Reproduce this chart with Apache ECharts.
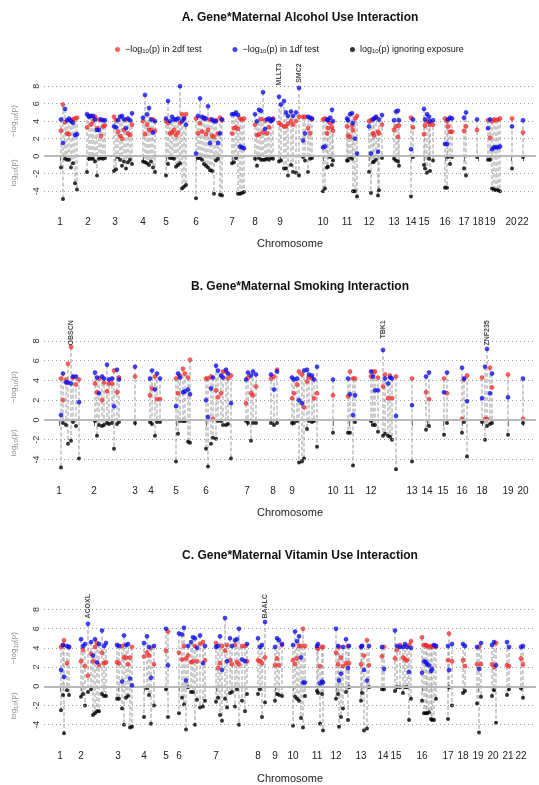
<!DOCTYPE html>
<html><head><meta charset="utf-8">
<script src="https://cdn.jsdelivr.net/npm/echarts@6/dist/echarts.min.js"></script>
<style>html,body{margin:0;padding:0;background:#fff}#c{width:539px;height:785px}</style>
</head><body><div id="c"></div>
<script>
// ---------------- Panel A: Alcohol ----------------
const chrPosA = [60,88,115,143,166,196,232,255,280,323,347,369,394,411,424,445,464,478,490,511,523];
const chrLabA = ['1','2','3','4','5','6','7','8','9','10','11','12','13','14','15','16','17','18','19','20','22'];
const posA = [
  61,63,65,67,69,71,73,75,77,
  87,89,91,93,95,97,99,101,103,105,
  114,116,118,120,122,124,126,128,130,132,
  143,145,147,149,151,153,155,
  166,168,170,172,174,176,178,180,182,184,186,
  196,198,200,202,204,206,208,210,212,214,216,218,220,222,
  232,234,236,238,240,242,244,
  255,257,259,261,263,265,267,269,271,273,
  279,281,284,286,288,291,293,296,299,303,305,308,310,312,
  323,325,327,328,330,332,333,
  347,348,350,352,353,355,357,
  369,371,373,374,376,378,379,382,
  394,396,398,399,
  411,413,
  424,425,427,429,430,433,
  445,447,448,450,452,
  464,466,
  477,
  488,490,492,494,496,498,500,
  512,
  523];
const red2dfA = [
  2.9,5.9,3.9,2.6,2.5,4.1,4.2,4.3,4.4,
  3.3,4.6,3.6,4.0,4.5,3.2,4.2,2.3,3.4,3.5,
  4.5,4.1,2.8,2.3,2.0,3.0,4.2,2.6,2.4,3.6,
  4.0,2.5,3.6,3.0,3.0,4.2,2.9,
  4.0,3.8,2.6,2.7,3.0,2.4,2.7,3.8,4.8,4.3,4.8,
  4.3,2.6,3.8,2.8,4.4,2.5,3.0,4.2,2.3,2.2,4.1,2.6,4.4,4.1,
  2.6,3.2,3.3,3.1,4.3,4.2,4.3,
  3.6,2.4,2.5,4.2,2.7,4.1,2.6,3.3,4.1,4.3,
  3.8,3.6,3.4,3.4,3.7,4.0,3.6,4.0,4.5,4.5,4.5,3.2,2.6,4.2,
  4.2,4.3,2.6,3.2,3.8,3.3,2.9,
  3.4,2.3,2.2,3.5,3.0,4.3,4.6,
  4.0,4.1,2.6,2.4,4.4,2.8,2.6,3.6,
  3.0,3.4,2.2,3.5,
  4.4,3.3,
  2.5,3.5,4.0,3.9,3.6,3.6,
  4.3,4.0,3.4,2.8,2.8,
  2.9,3.4,
  3.0,
  4.1,2.1,4.0,4.2,4.1,4.2,4.3,
  4.3,
  2.7];
const blue1dfA = [
  4.2,1.5,5.4,4.1,4.3,4.0,3.8,2.4,2.5,
  4.8,4.5,4.6,4.6,4.2,3.0,3.0,4.2,4.1,4.1,
  3.4,3.3,4.1,4.5,4.6,4.2,3.2,4.3,4.1,4.9,
  4.4,7.0,4.8,5.5,4.2,2.7,4.0,
  4.3,6.3,4.0,4.5,4.2,4.2,4.3,8.0,4.0,4.3,3.6,
  0.3,4.6,6.6,4.5,4.3,4.3,5.7,1.5,4.2,4.0,4.0,1.5,2.6,4.2,
  4.8,4.8,5.0,4.7,1.1,1.0,0.9,
  4.8,4.0,5.3,5.2,7.3,3.1,4.2,4.3,4.0,4.2,
  6.8,5.9,6.3,5.0,4.6,5.1,4.6,5.0,7.8,1.8,2.6,4.5,4.4,4.3,
  1.0,1.1,4.2,4.1,4.4,5.3,4.0,
  4.3,4.1,4.8,4.9,3.8,2.0,0.3,
  3.4,0.3,4.2,4.3,4.5,0.5,4.2,4.7,
  4.1,5.1,5.2,4.1,
  0.8,4.2,
  5.4,4.2,4.8,4.5,4.0,4.1,
  1.4,1.4,4.2,4.4,4.3,
  4.4,5.0,
  4.2,
  3.2,4.2,0.8,1.0,1.0,1.0,1.1,
  3.4,
  4.1];
const margA = [
  -1.3,-4.9,-0.3,-0.4,-0.4,-1.3,-0.8,-3.1,-3.8,
  -1.8,-0.3,-0.3,-0.3,-0.6,-2.2,-0.3,-0.2,-0.3,-0.2,
  -1.7,-1.5,-0.1,-0.4,-1.1,-0.6,-1.4,-0.7,-0.4,-0.9,
  -0.6,-0.7,-0.8,-1.0,-0.6,-1.3,-1.8,
  -2.2,-0.9,-0.2,-0.2,-0.3,-1.2,-1.0,-0.8,-3.7,-3.5,-3.3,
  -4.8,-0.2,-0.2,-0.4,-0.9,-1.1,-1.3,-1.6,-1.7,-4.3,-0.5,-0.3,-4.4,-4.5,
  -0.8,-0.7,-0.2,-4.3,-4.3,-4.2,-4.1,
  -0.3,-1.1,-0.2,-0.4,-0.4,-0.4,-0.3,-0.4,-0.2,-0.3,
  -0.6,-0.5,-1.4,-1.4,-2.2,-1.0,-1.8,-1.9,-2.2,-0.1,-0.5,-1.8,-0.3,-0.2,
  -4.0,-3.7,-1.3,-1.2,-0.1,-1.0,-0.5,
  -0.5,-0.5,-0.1,-0.3,-4.0,-4.0,-4.6,
  -1.8,-4.2,-0.7,-0.6,-0.4,-4.5,-3.9,-0.2,
  -0.3,-0.5,-0.6,-1.1,
  -4.6,-0.1,
  -1.0,-1.4,-1.9,-0.3,-1.7,-0.5,
  -3.6,-3.6,-0.1,-0.9,-0.1,
  -1.4,-2.2,
  -0.1,
  -0.4,-0.4,-3.7,-3.8,-3.9,-3.9,-4.0,
  -1.4,
  -0.1];
const genesA = ['MLLT3','SMC2'];
const genePosA = [279,299];

// ---------------- Panel B: Smoking ----------------
const chrPosB = [59,94,135,151,176,206,247,273,292,333,349,371,412,427,443,462,482,508,523];
const chrLabB = ['1','2','3','4','5','6','7','8','9','10','11','12','13','14','15','16','18','19','20'];
const posB = [
  61,63,66,68,71,73,76,79,
  95,97,99,102,104,107,109,112,114,117,119,
  135,
  150,152,155,157,160,
  176,178,180,183,185,188,190,
  206,208,211,213,216,218,221,223,226,228,231,
  246,248,251,253,256,
  271,274,277,
  292,294,297,299,302,304,307,309,312,314,317,
  333,
  348,350,353,355,
  371,373,375,378,383,385,388,390,392,396,
  412,
  426,429,
  444,447,
  462,464,467,
  482,485,487,490,492,
  508,
  523];
const red2dfB = [
  4.2,2.0,4.1,5.7,7.4,4.3,3.6,4.1,
  3.7,2.8,4.2,2.0,3.8,2.9,3.7,3.7,5.0,2.8,4.3,
  4.4,
  2.5,3.2,4.4,2.1,2.1,
  4.2,2.7,4.5,5.2,4.7,4.3,6.1,
  4.2,4.2,4.4,0.1,3.0,2.3,2.7,4.9,4.9,4.2,4.5,
  1.7,4.3,2.7,2.5,3.4,
  4.2,4.4,5.1,
  2.2,2.7,3.6,4.9,4.6,1.3,3.9,4.3,4.2,2.2,2.7,
  2.5,
  2.4,4.9,4.2,4.2,
  4.4,4.9,4.9,4.3,3.4,4.6,2.2,4.5,2.2,4.4,
  4.2,
  2.8,2.1,
  4.2,2.7,
  0.1,4.1,4.5,
  4.3,0.1,0.1,5.3,3.3,
  4.6,
  0.1];
const blue1dfB = [
  0.5,4.7,3.8,3.8,3.7,4.4,4.4,1.8,
  4.8,4.3,2.7,4.4,4.2,5.6,4.1,4.2,1.4,5.1,4.1,
  5.4,
  4.2,5.0,3.1,4.7,4.2,
  1.4,4.7,4.3,2.8,2.9,3.1,2.6,
  2.0,0.3,3.2,4.3,5.5,5.0,4.5,4.3,5.1,4.7,1.7,
  4.1,4.8,4.5,4.9,4.6,
  4.6,3.1,4.9,
  4.3,4.1,4.2,2.0,1.7,5.0,5.1,4.6,4.5,4.1,5.4,
  4.1,
  4.2,2.6,0.5,2.5,
  4.9,4.4,3.0,3.0,7.1,4.2,3.7,4.3,4.2,0.4,
  1.5,
  4.4,4.8,
  2.8,4.8,
  5.3,4.2,1.9,
  2.2,5.4,7.2,2.7,4.7,
  2.3,
  4.2];
const margB = [
  -4.8,-0.3,-0.5,-2.4,-2.1,-0.2,-0.6,-3.9,
  -0.1,-1.6,-0.5,-0.6,-0.5,-0.3,-0.4,-0.3,-2.9,-0.4,-0.2,
  -0.3,
  -0.2,-0.4,-1.6,-0.2,-0.2,
  -4.2,-1.4,-0.1,-0.1,-0.1,-2.2,-2.3,
  -2.9,-4.7,-2.4,-1.8,-1.9,-0.1,-0.1,-0.5,-0.5,-0.4,-3.9,
  -0.1,-0.3,-2.1,-0.3,-0.3,
  -0.3,-0.5,-0.3,
  -0.3,-0.3,-0.1,-4.3,-4.2,-3.9,-0.9,-0.1,-0.2,-0.1,-2.7,
  -1.3,
  -1.3,-1.3,-4.6,-0.2,
  -0.1,-0.5,-0.5,-1.2,-1.6,-1.4,-1.6,-1.7,-2.0,-5.0,
  -4.2,
  -1.0,-0.6,
  -1.5,-0.3,
  -1.3,-0.2,-3.7,
  -0.2,-2.0,-0.6,-0.4,-0.3,
  -1.5,
  -0.3];
const genesB = ['OBSCN','TBK1','ZNF235'];
const genePosB = [71,383,487];

// ---------------- Panel C: Vitamin ----------------
const chrPosC = [60,81,118,144,166,179,216,258,275,293,317,336,361,383,396,422,448,463,478,493,508,521];
const chrLabC = ['1','2','3','4','5','6','7','8','9','10','11','12','13','14','15','16','17','18','19','20','21','22'];
const posC = [
  61,63,64,67,69,
  81,83,85,88,91,93,95,97,99,102,104,106,
  117,119,122,124,126,128,130,132,
  144,147,149,151,154,
  166,168,
  179,182,184,186,188,191,193,195,197,200,203,205,
  216,218,220,222,225,227,230,232,235,237,239,242,245,247,
  258,260,262,265,
  275,277,279,282,
  293,295,297,299,301,303,305,
  317,318,320,322,323,
  336,338,339,341,343,346,348,349,
  361,362,364,367,369,
  382,384,
  395,397,400,403,405,407,409,411,
  422,424,426,427,429,431,432,434,436,
  448,449,452,
  463,465,
  477,479,481,
  492,494,496,
  507,509,
  521,523];
const red2dfC = [
  4.1,4.3,4.8,2.4,4.1,
  2.6,3.8,2.1,1.1,3.4,2.6,4.1,4.5,2.2,3.5,2.4,2.5,
  2.5,2.4,4.2,3.0,3.0,2.3,3.0,4.1,
  3.1,3.5,3.2,4.0,2.3,
  3.7,5.7,
  3.5,2.8,4.2,2.9,3.2,2.5,2.6,4.2,2.6,4.4,4.6,2.7,
  4.5,1.9,2.4,4.2,3.7,4.3,2.7,2.3,4.3,2.5,2.3,4.2,4.2,2.6,
  2.7,2.6,2.4,3.0,
  2.2,2.9,2.2,4.3,
  2.7,2.3,2.9,4.2,4.2,6.0,4.2,
  4.0,3.9,2.1,4.1,4.1,
  3.5,2.3,4.1,3.0,2.1,2.4,4.2,2.4,
  2.3,4.2,3.2,4.8,2.2,
  3.1,4.1,
  2.9,3.8,4.3,3.0,2.8,2.7,4.3,4.7,
  5.1,4.3,4.3,4.2,4.1,4.2,4.1,4.2,4.1,
  2.7,5.5,2.6,
  2.7,2.1,
  2.3,4.1,2.3,
  2.3,2.0,4.5,
  2.2,2.1,
  2.9,2.3];
const blue1dfC = [
  1.7,4.3,1.0,4.2,4.1,
  4.9,4.2,4.4,6.5,4.6,3.2,4.9,2.5,4.4,5.8,4.2,4.5,
  4.3,4.2,0.5,5.3,4.3,4.4,0.8,0.1,
  4.5,5.2,4.1,0.9,4.2,
  6.0,2.2,
  5.5,5.4,6.1,0.6,4.2,4.6,5.1,5.0,4.0,5.3,2.4,4.2,
  4.1,4.2,5.2,1.7,7.1,2.6,5.0,4.2,4.8,4.9,6.0,2.8,2.6,4.4,
  5.0,4.1,4.3,6.7,
  4.1,5.0,4.8,4.4,
  4.3,5.7,4.7,5.2,3.0,0.4,0.4,
  4.2,4.4,0.3,0.5,0.4,
  6.0,4.2,0.6,1.3,4.1,4.9,1.9,4.2,
  4.1,4.2,1.7,0.6,4.2,
  4.1,1.8,
  5.8,4.2,4.1,4.1,4.4,4.1,1.5,4.0,
  1.4,2.6,2.5,2.3,2.2,1.6,1.8,4.3,4.2,
  4.2,1.7,4.4,
  4.4,4.2,
  4.1,1.8,4.5,
  4.3,4.6,2.2,
  4.6,4.1,
  4.1,4.2];
const margC = [
  -2.5,-0.9,-4.9,-0.4,-0.9,
  -1.1,-0.8,-2.0,-0.6,-0.3,-3.0,-2.8,-2.6,-2.6,-0.8,-1.0,-1.0,
  -1.3,-1.3,-2.3,-4.0,-1.2,-1.0,-4.3,-4.2,
  -3.2,-0.2,-0.9,-3.9,-2.0,
  -0.3,-3.2,
  -2.8,-1.2,-1.9,-4.5,-0.1,-0.6,-0.6,-4.0,-1.4,-2.2,-2.1,-1.5,
  -1.6,-1.2,-3.0,-3.6,-1.3,-2.2,-0.7,-0.6,-2.1,-0.3,-4.0,-1.5,-2.6,-0.8,
  -0.8,-0.3,-3.2,-1.7,
  -1.5,-0.8,-0.9,-1.0,
  -4.1,-1.1,-1.3,-1.5,-3.3,-4.3,-1.0,
  -0.5,-0.7,-3.9,-0.8,-4.6,
  -1.3,-0.8,-4.2,-3.2,-2.3,-0.6,-3.5,-0.1,
  -1.5,-0.7,-4.6,-4.4,-0.1,
  -0.3,-0.3,
  -0.5,-0.1,-0.1,-0.7,-0.1,-0.1,-3.5,-1.3,
  -1.5,-2.8,-2.8,-2.8,-2.7,-3.4,-3.5,-3.5,-1.3,
  -3.4,-0.1,-2.0,
  -0.7,-0.5,
  -1.8,-4.8,-1.1,
  -1.0,-0.4,-3.8,
  -0.9,-0.3,
  -0.2,-1.2];
const genesC = ['ACOXL','BAALC'];
const genePosC = [88,265];

const yTicks = [-4,-2,0,2,4,6,8];
const gridLines = [-4,-2,2,4,6,8];
const titles = ['A. Gene*Maternal Alcohol Use Interaction','B. Gene*Maternal Smoking Interaction','C. Gene*Maternal Vitamin Use Interaction'];

// ---------------- build ----------------
const FONT = '"Liberation Sans", Arial, sans-serif';
const panels = [
  {pos:posA, red:red2dfA, blue:blue1dfA, black:margA, chrPos:chrPosA, chrLab:chrLabA, genes:genesA, genePos:genePosA,
   top:73, height:131.25, ymin:-5.5, ymax:9.5, labelY:10.6, tickOffset:3, tickLen:5, labelMargin:10, nameGap:31, titleTop:7, nameY:[121,173]},
  {pos:posB, red:red2dfB, blue:blue1dfB, black:margB, chrPos:chrPosB, chrLab:chrLabB, genes:genesB, genePos:genePosB,
   top:321.25, height:153.06, ymin:-5.5, ymax:10, labelY:10.1, tickOffset:1, tickLen:6, labelMargin:11, nameGap:32, titleTop:276, nameY:[387,443]},
  {pos:posC, red:red2dfC, blue:blue1dfC, black:margC, chrPos:chrPosC, chrLab:chrLabC, genes:genesC, genePos:genePosC,
   top:590.25, height:156.03, ymin:-5.8, ymax:10, labelY:9.6, tickOffset:0, tickLen:5, labelMargin:9, nameGap:31, titleTop:545, nameY:[648,706]}
];

const grid = [], xAxis = [], yAxis = [], series = [], title = [], graphic = [];
const subRich = (c)=>({a:{fontSize:8, fill:c, fontFamily:FONT}, b:{fontSize:6, fill:c, fontFamily:FONT, verticalAlign:'bottom', padding:[4,0,0,0]}});

panels.forEach((p, gi) => {
  grid.push({left:44, right:3, top:p.top, height:p.height});
  title.push({text:titles[gi], left:295, textAlign:'center', top:p.titleTop,
    textStyle:{fontSize:12, fontWeight:'bold', color:'#111', fontFamily:FONT}});
  xAxis.push({gridIndex:gi, type:'value', min:44, max:536, offset:p.tickOffset,
    axisLine:{show:false}, splitLine:{show:false},
    axisTick:{show:true, customValues:p.chrPos, length:p.tickLen, lineStyle:{color:'#666'}},
    axisLabel:{customValues:p.chrPos, formatter:(v)=>{const k=p.chrPos.indexOf(v); return k<0?'':p.chrLab[k];},
      fontSize:10, color:'#222', margin:p.labelMargin, fontFamily:FONT},
    name:'Chromosome', nameLocation:'middle', nameGap:p.nameGap,
    nameTextStyle:{fontSize:11, color:'#222', fontFamily:FONT}});
  yAxis.push({gridIndex:gi, type:'value', min:p.ymin, max:p.ymax,
    axisLine:{show:false}, axisTick:{show:false}, splitLine:{show:false},
    axisLabel:{customValues:yTicks, rotate:90, fontSize:9, color:'#333', margin:3, fontFamily:FONT}});

  const lineData = p.pos.map((x,i)=>[x, Math.max(p.red[i], p.blue[i]), p.black[i]]);
  series.push({type:'custom', xAxisIndex:gi, yAxisIndex:gi, z:1, silent:true,
    data:lineData, encode:{x:0, y:[1,2]},
    renderItem:(params, api)=>{
      const a = api.coord([api.value(0), api.value(1)]);
      const b = api.coord([api.value(0), api.value(2)]);
      return {type:'line', shape:{x1:a[0], y1:a[1], x2:b[0], y2:b[1]},
        style:{stroke:'#999', lineWidth:1, lineDash:[4,2]}};
    }});
  series.push({name:'kmarg', type:'scatter', xAxisIndex:gi, yAxisIndex:gi, z:3, symbolSize:4,
    itemStyle:{color:'#000'}, data:p.pos.map((x,i)=>[x, p.black[i]]),
    markLine:{silent:true, symbol:['none','none'], label:{show:false},
      lineStyle:{color:'#9a9a9a', type:[1,3], width:1},
      data:gridLines.map(v=>({yAxis:v})).concat([{yAxis:0, lineStyle:{color:'#b8b8b8', type:'solid', width:2}}])}});
  series.push({name:'r2df', type:'scatter', xAxisIndex:gi, yAxisIndex:gi, z:4, symbolSize:4,
    itemStyle:{color:'#ff3c3c', borderColor:'#e01010', borderWidth:0.6}, data:p.pos.map((x,i)=>[x, p.red[i]])});
  series.push({name:'b1df', type:'scatter', xAxisIndex:gi, yAxisIndex:gi, z:5, symbolSize:4,
    itemStyle:{color:'#1414ff', borderColor:'#0000cc', borderWidth:0.6}, data:p.pos.map((x,i)=>[x, p.blue[i]])});
  series.push({type:'scatter', xAxisIndex:gi, yAxisIndex:gi, z:6, symbolSize:0, clip:false, silent:true,
    data:p.genes.map((g,k)=>({name:g, value:[p.genePos[k], p.labelY]})),
    label:{show:true, position:'inside', formatter:'{b}', rotate:90, align:'right', verticalAlign:'middle',
      fontSize:7, fontWeight:'bold', color:'#111', fontFamily:FONT}});

  graphic.push({type:'text', x:14, y:p.nameY[0], rotation:Math.PI/2,
    style:{text:'{a|\u2212log}{b|10}{a|(p)}', rich:subRich('#8a8a8a'), align:'center', verticalAlign:'middle'}});
  graphic.push({type:'text', x:14, y:p.nameY[1], rotation:Math.PI/2,
    style:{text:'{a|log}{b|10}{a|(p)}', rich:subRich('#8a8a8a'), align:'center', verticalAlign:'middle'}});
});

const legendText = {
  r2df:'\u2212log{s|10}(p) in 2df test',
  b1df:'\u2212log{s|10}(p) in 1df test',
  kmarg:'log{s|10}(p) ignoring exposure'
};

const chart = echarts.init(document.getElementById('c'));
chart.setOption({
  animation:false,
  backgroundColor:'#fff',
  title, grid, xAxis, yAxis, series, graphic,
  legend:{left:110, top:40, itemWidth:5, itemHeight:5, itemGap:31, icon:'circle', selectedMode:false,
    itemStyle:{borderWidth:0},
    data:['r2df','b1df','kmarg'], formatter:(n)=>legendText[n],
    textStyle:{fontSize:9, color:'#111', fontFamily:FONT,
      rich:{s:{fontSize:6, color:'#111', fontFamily:FONT, verticalAlign:'bottom', padding:[4,0,0,0]}}}}
});
</script>
</body></html>
